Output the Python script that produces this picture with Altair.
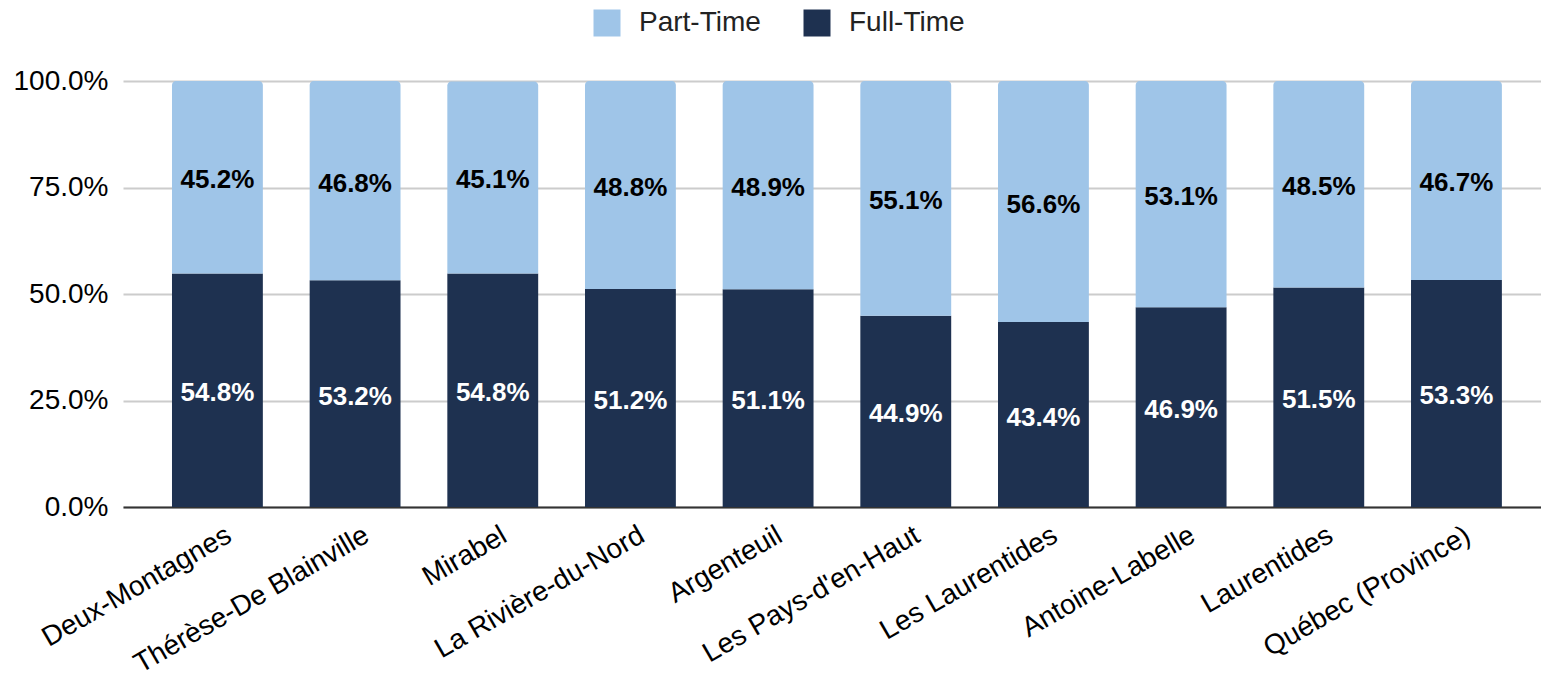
import altair as alt
import pandas as pd

regions = ["Deux-Montagnes", "Thérèse-De Blainville", "Mirabel", "La Rivière-du-Nord",
           "Argenteuil", "Les Pays-d'en-Haut", "Les Laurentides", "Antoine-Labelle",
           "Laurentides", "Québec (Province)"]
full_time = [54.8, 53.2, 54.8, 51.2, 51.1, 44.9, 43.4, 46.9, 51.5, 53.3]
part_time = [45.2, 46.8, 45.1, 48.8, 48.9, 55.1, 56.6, 53.1, 48.5, 46.7]
series = ["Part-Time", "Full-Time"]
colors = ["#9fc5e8", "#1e3150"]

rows = []
for r, f, p in zip(regions, full_time, part_time):
    rows.append({"region": r, "type": "Full-Time", "value": f, "start": 0.0, "end": f,
                 "label": f"{f:.1f}%"})
    rows.append({"region": r, "type": "Part-Time", "value": p, "start": f, "end": f + p,
                 "label": f"{p:.1f}%"})
df = pd.DataFrame(rows)
df["mid"] = (df["start"] + df["end"]) / 2

FONT = "Liberation Sans"

x = alt.X("region:N", sort=regions, title=None,
          scale=alt.Scale(paddingInner=0.34, paddingOuter=0.32, align=0.556),
          axis=alt.Axis(labelAngle=-30, labelAlign="right", labelBaseline="top",
                        labelFontSize=28, labelColor="#000", labelFont=FONT,
                        labelLimit=0, labelOffset=5,
                        ticks=False, domain=True, domainColor="#333", domainWidth=2,
                        labelPadding=14))
y_scale = alt.Scale(domain=[0, 100])
color = alt.Color("type:N", scale=alt.Scale(domain=series, range=colors),
                  legend=alt.Legend(title=None, orient="none", direction="horizontal",
                                    legendX=470, legendY=-72, symbolType="square",
                                    symbolSize=729, symbolStrokeWidth=0,
                                    labelFontSize=28, labelFont=FONT, labelColor="#222",
                                    columnPadding=42, labelOffset=18))

y = alt.Y("start:Q", scale=y_scale, title=None,
          axis=alt.Axis(values=[0, 25, 50, 75, 100], labelExpr="format(datum.value, '.1f') + '%'",
                        labelFontSize=28, labelColor="#000", labelFont=FONT, labelPadding=15,
                        ticks=False, domain=False, gridColor="#cccccc", gridWidth=2))

base = alt.Chart(df)

full_bars = base.transform_filter(alt.datum.type == "Full-Time").mark_bar().encode(
    x=x, y=y, y2="end:Q", color=color)
part_bars = base.transform_filter(alt.datum.type == "Part-Time").mark_bar(
    cornerRadiusTopLeft=4, cornerRadiusTopRight=4).encode(
    x=x, y=y, y2="end:Q", color=color)

text = base.mark_text(font=FONT, fontSize=26, fontWeight="bold", dy=3).encode(
    x=alt.X("region:N", sort=regions),
    y=alt.Y("mid:Q", scale=y_scale),
    text="label:N",
    color=alt.condition(alt.datum.type == "Full-Time", alt.value("#ffffff"), alt.value("#000000")))

chart = alt.layer(full_bars, part_bars, text).properties(
    width=1418, height=426,
    autosize=alt.AutoSizeParams(type="none"),
    padding={"left": 123, "top": 81, "right": 0, "bottom": 171},
).configure_view(stroke=None).configure_axis(gridDash=[])

chart.save("out.html", embed_options={"renderer": "svg", "actions": False})
